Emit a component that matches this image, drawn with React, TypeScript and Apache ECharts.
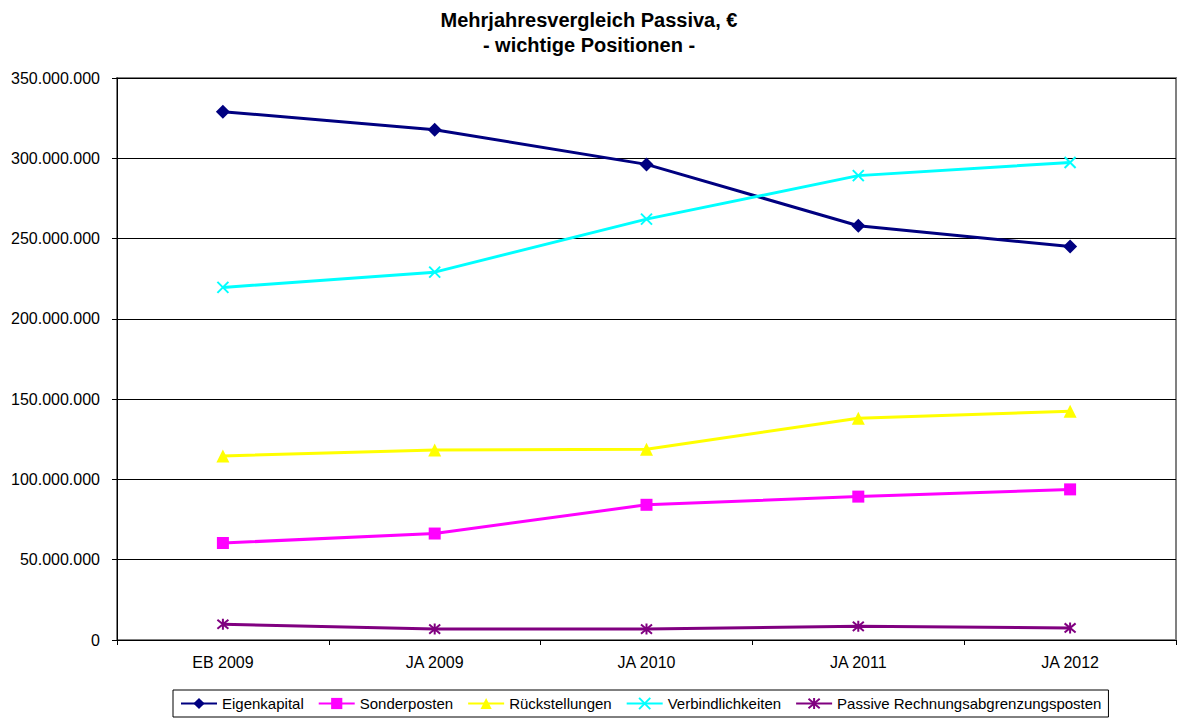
import React, { useEffect, useRef } from "react";
import * as echarts from "echarts";

const categories = ["EB 2009", "JA 2009", "JA 2010", "JA 2011", "JA 2012"];
const eigenkapital = [329000000, 317800000, 296200000, 258000000, 245000000];
const sonderposten = [60400000, 66300000, 84200000, 89300000, 93800000];
const rueckstellungen = [114600000, 118300000, 118800000, 138100000, 142400000];
const verbindlichkeiten = [219600000, 229100000, 262100000, 289200000, 297400000];
const passiveRAP = [9800000, 6800000, 6800000, 8500000, 7500000];
const yTicks = { min: 0, max: 350000000, interval: 50000000 };

const FONT = "'Liberation Sans', Arial, sans-serif";

const fmt = (v: number) => {
  const s = Math.round(v).toString();
  return s.replace(/\B(?=(\d{3})+(?!\d))/g, ".");
};

const CROSS = "path://M0,0L10,10M10,0L0,10";
const STAR = "path://M0,0L10,10M10,0L0,10M5,-1L5,11";

export default function App() {
  const ref = useRef<HTMLDivElement>(null);
  useEffect(() => {
    document.body.style.margin = "0";
    const chart = echarts.init(ref.current!, undefined, { renderer: "svg" });
    const mk = (name: string, data: number[], color: string, symbol: string, size: number, stroked: boolean) => ({
      name,
      type: "line",
      data,
      symbol,
      symbolSize: size,
      showSymbol: true,
      lineStyle: { color, width: 3 },
      itemStyle: stroked
        ? { color: "rgba(0,0,0,0)", borderColor: color, borderWidth: 2 }
        : { color, borderColor: color, borderWidth: 0 },
      emphasis: { disabled: true },
    });
    chart.setOption({
      animation: false,
      backgroundColor: "#ffffff",
      title: {
        text: "Mehrjahresvergleich Passiva, €\n- wichtige Positionen -",
        left: "center",
        top: 7,
        padding: [0, 0, 0, 6],
        textStyle: {
          fontFamily: FONT,
          fontWeight: "bold",
          fontSize: 20,
          lineHeight: 25,
          color: "#000000",
        },
      },
      grid: {
        left: 117,
        right: 2,
        top: 78,
        bottom: 80,
        containLabel: false,
        show: true,
        borderColor: "#808080",
        borderWidth: 2,
      },
      legend: {
        left: 173,
        top: 690,
        orient: "horizontal",
        borderColor: "#000000",
        borderWidth: 1,
        padding: [6, 7],
        itemWidth: 36,
        itemHeight: 14,
        itemGap: 14,
        textStyle: { fontFamily: FONT, fontSize: 15, color: "#000000" },
        data: ["Eigenkapital", "Sonderposten", "Rückstellungen", "Verbindlichkeiten", "Passive Rechnungsabgrenzungsposten"],
      },
      xAxis: {
        type: "category",
        data: categories,
        boundaryGap: true,
        axisLine: { show: true, lineStyle: { color: "#000000", width: 1 } },
        axisTick: { show: true, interval: 0, length: 5, lineStyle: { color: "#000000" } },
        axisLabel: { fontFamily: FONT, fontSize: 16, color: "#000000", margin: 14, interval: 0 },
        splitLine: { show: false },
      },
      yAxis: {
        type: "value",
        min: yTicks.min,
        max: yTicks.max,
        interval: yTicks.interval,
        axisLine: { show: true, lineStyle: { color: "#000000", width: 1 } },
        axisTick: { show: true, length: 5, lineStyle: { color: "#000000" } },
        axisLabel: { fontFamily: FONT, fontSize: 16, color: "#000000", margin: 17, formatter: (v: number) => fmt(v) },
        splitLine: { show: true, lineStyle: { color: "#000000", width: 1 } },
      },
      series: [
        mk("Eigenkapital", eigenkapital, "#000080", "diamond", 14, false),
        mk("Sonderposten", sonderposten, "#FF00FF", "rect", 12, false),
        mk("Rückstellungen", rueckstellungen, "#FFFF00", "triangle", 13, false),
        mk("Verbindlichkeiten", verbindlichkeiten, "#00FFFF", CROSS, 11, true),
        mk("Passive Rechnungsabgrenzungsposten", passiveRAP, "#800080", STAR, 11, true),
      ],
    });
    return () => chart.dispose();
  }, []);
  return <div ref={ref} style={{ width: 1178, height: 720 }} />;
}
